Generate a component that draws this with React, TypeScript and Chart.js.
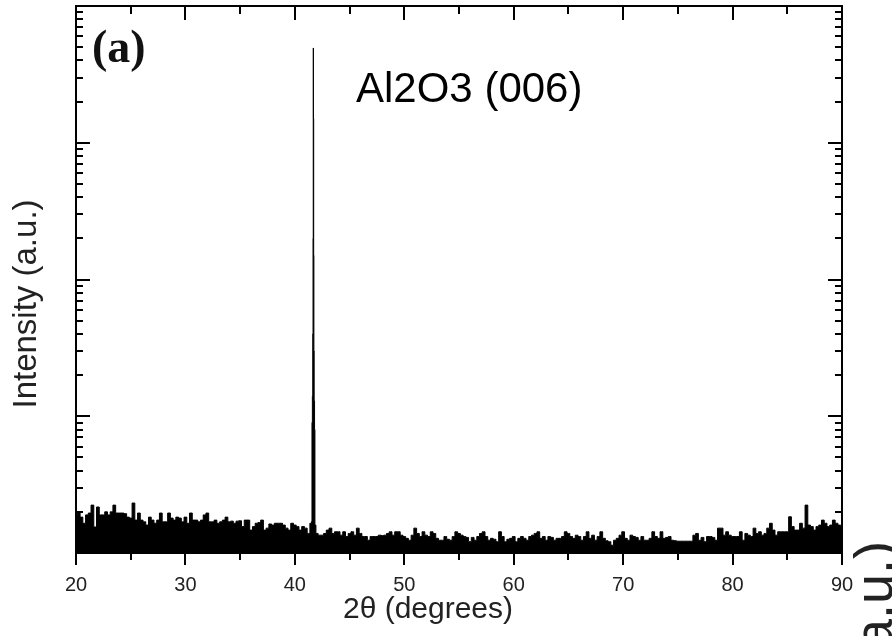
import React, { useEffect, useRef } from "react";
import { Chart, registerables } from "chart.js";

Chart.register(...registerables);

// 2θ grid for the background noise (degrees)
const NOISE_START = 20;
const NOISE_STEP = 0.25;
// background intensity (counts) read every 0.25° from 20° to 90°
const noiseCounts = [
  190, 196, 183, 165, 190, 196, 224, 155, 217, 190, 190, 200, 190, 200, 224, 196, 196, 196, 194, 183,
  180, 232, 174, 196, 174, 169, 160, 183, 174, 165, 174, 196, 169, 169, 196, 180, 174, 183, 180, 169,
  183, 165, 196, 174, 174, 169, 174, 190, 196, 169, 169, 174, 165, 169, 174, 183, 169, 171, 165, 171,
  172, 156, 174, 174, 147, 156, 165, 167, 174, 147, 152, 163, 160, 165, 165, 165, 160, 152, 147, 165,
  160, 156, 147, 156, 152, 139, 165, 165, 139, 135, 135, 139, 147, 152, 139, 143, 143, 135, 143, 132,
  139, 143, 135, 152, 139, 132, 132, 124, 132, 132, 132, 135, 134, 135, 139, 143, 135, 143, 143, 135,
  132, 128, 124, 135, 152, 139, 132, 143, 135, 132, 143, 139, 128, 124, 124, 132, 126, 124, 132, 143,
  139, 135, 132, 130, 121, 130, 124, 132, 139, 143, 132, 124, 128, 126, 121, 143, 132, 121, 126, 128,
  132, 121, 128, 132, 128, 124, 132, 135, 139, 143, 128, 132, 124, 132, 130, 124, 128, 128, 132, 143,
  139, 132, 128, 135, 132, 124, 132, 143, 128, 135, 124, 132, 143, 128, 123, 121, 114, 124, 128, 135,
  143, 128, 124, 135, 132, 130, 124, 132, 124, 124, 128, 143, 132, 128, 143, 128, 130, 132, 124, 123,
  122, 122, 122, 122, 122, 122, 135, 139, 124, 130, 121, 132, 132, 130, 124, 152, 152, 135, 143, 135,
  132, 132, 132, 143, 124, 139, 135, 132, 152, 139, 143, 135, 139, 152, 165, 147, 135, 143, 143, 143,
  143, 184, 156, 147, 147, 165, 152, 224, 160, 156, 147, 156, 160, 174, 165, 156, 160, 174, 165, 160,
  156,
];
// Al2O3 (006) reflection
const peakAngles = [41.55, 41.58, 41.62, 41.65, 41.67, 41.69, 41.71, 41.73, 41.75, 41.78, 41.82, 41.85];
const peakCounts = [170, 900, 1400, 4000, 20000, 493000, 150000, 15000, 3000, 1300, 800, 160];

const xTickValues = [20, 25, 30, 35, 40, 45, 50, 55, 60, 65, 70, 75, 80, 85, 90];
const yDecades = [100, 1000, 10000, 100000, 1000000];

const SANS = "'Liberation Sans', Arial, sans-serif";

const framePlugin = {
  id: "frameAndText",
  afterDraw(chart: any) {
    const { ctx, chartArea, scales } = chart;
    const { left, right, top, bottom } = chartArea;
    const xs = scales.x;
    const ys = scales.y;
    ctx.save();
    ctx.strokeStyle = "#000";
    ctx.lineCap = "butt";
    const seg = (x1: number, y1: number, x2: number, y2: number) => {
      ctx.beginPath();
      ctx.moveTo(x1, y1);
      ctx.lineTo(x2, y2);
      ctx.stroke();
    };
    ctx.lineWidth = 2;
    // x ticks
    xTickValues.forEach((v) => {
      const px = Math.round(xs.getPixelForValue(v));
      const major = v % 10 === 0;
      seg(px, bottom, px, bottom + (major ? 12 : 7));
      seg(px, top, px, top + (major ? 14 : 8));
    });
    // y ticks (log)
    yDecades.forEach((d, di) => {
      for (let m = 1; m <= 9; m++) {
        const v = d * m;
        if (di === yDecades.length - 1 && m > 1) break;
        const py = Math.round(ys.getPixelForValue(v));
        const len = m === 1 ? 14 : 7;
        seg(left, py, left + len, py);
        seg(right, py, right - len, py);
      }
    });
    // frame
    ctx.lineWidth = 2;
    ctx.strokeRect(left, top, right - left, bottom - top);

    // texts
    ctx.fillStyle = "#111";
    ctx.textBaseline = "alphabetic";
    ctx.textAlign = "left";
    ctx.font = "bold 46px 'Liberation Serif', 'Times New Roman', serif";
    ctx.fillText("(a)", 92, 62);

    ctx.fillStyle = "#000";
    ctx.font = `42px ${SANS}`;
    ctx.fillText("Al2O3 (006)", 356, 102);

    ctx.fillStyle = "#222";
    ctx.font = `30px ${SANS}`;
    ctx.textAlign = "center";
    ctx.fillText("2\u03B8 (degrees)", 428, 618);

    ctx.save();
    ctx.translate(36, 304);
    ctx.rotate(-Math.PI / 2);
    ctx.font = `33px ${SANS}`;
    ctx.textAlign = "center";
    ctx.fillText("Intensity (a.u.)", 0, 0);
    ctx.restore();

    ctx.save();
    ctx.translate(892, 541);
    ctx.rotate(-Math.PI / 2);
    ctx.font = `54px ${SANS}`;
    ctx.textAlign = "right";
    ctx.fillText("(a.u.)", 0, 0);
    ctx.restore();

    ctx.restore();
  },
};

export default function App() {
  const canvasRef = useRef<HTMLCanvasElement | null>(null);

  useEffect(() => {
    const canvas = canvasRef.current;
    if (!canvas) return;

    const points: { x: number; y: number }[] = [];
    noiseCounts.forEach((c, i) => {
      const a = NOISE_START + i * NOISE_STEP;
      if (a > 41.52 && a < 41.88) return;
      points.push({ x: a, y: c });
    });
    peakAngles.forEach((a, i) => points.push({ x: a, y: peakCounts[i] }));
    points.sort((p, q) => p.x - q.x);

    const chart = new Chart(canvas, {
      type: "line",
      data: {
        datasets: [
          {
            data: points,
            borderColor: "#000",
            backgroundColor: "#000",
            borderWidth: 1,
            pointRadius: 0,
            stepped: "middle",
            fill: "start",
            tension: 0,
          },
        ],
      },
      options: {
        responsive: false,
        animation: false,
        layout: { padding: { left: 0, right: 50, top: 6, bottom: 0 } },
        plugins: {
          legend: { display: false },
          tooltip: { enabled: false },
          title: { display: false },
        },
        scales: {
          x: {
            type: "linear",
            min: 20,
            max: 90,
            ticks: {
              stepSize: 10,
              autoSkip: false,
              maxRotation: 0,
              padding: 20,
              color: "#222",
              font: { family: SANS, size: 20 },
            },
            grid: { display: false, drawTicks: false },
            border: { display: false },
            afterFit: (s: any) => {
              s.height = 83;
            },
          },
          y: {
            type: "logarithmic",
            min: 100,
            max: 1000000,
            ticks: { display: false },
            grid: { display: false, drawTicks: false },
            border: { display: false },
            afterFit: (s: any) => {
              s.width = 76;
            },
          },
        },
      } as any,
      plugins: [framePlugin],
    });

    return () => chart.destroy();
  }, []);

  return (
    <div style={{ position: "fixed", left: 0, top: 0, width: 892, height: 636, background: "#fff" }}>
      <canvas ref={canvasRef} width={892} height={636} style={{ display: "block" }} />
    </div>
  );
}
